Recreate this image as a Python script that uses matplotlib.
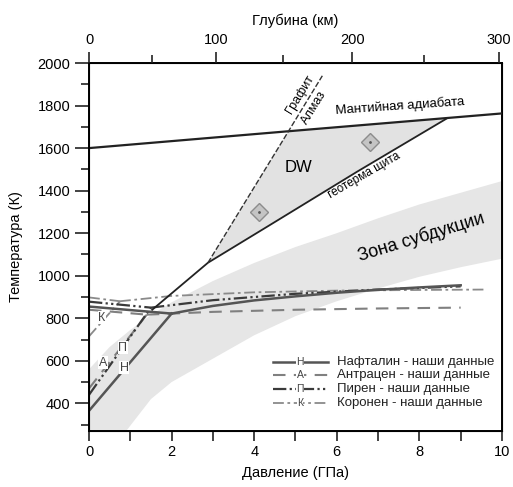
import numpy as np
import matplotlib
matplotlib.use("Agg")
import matplotlib.pyplot as plt
from matplotlib.ticker import MultipleLocator

plt.rcParams['font.family'] = ['Liberation Sans', 'DejaVu Sans']

# --- data (pressure in GPa, temperature in K) ---
adiabat_P = [0, 5, 10]
adiabat_T = [1600, 1682, 1763]

geotherm_P = [1.53, 2.88, 4.31, 6.5, 8.67]
geotherm_T = [840, 1061, 1230, 1490, 1740]

graphite_P = [2.88, 4.82, 5.65]
graphite_T = [1061, 1676, 1940]

dw_P = [2.88, 4.82, 8.67, 6.5, 4.31]
dw_T = [1061, 1676, 1740, 1490, 1230]

subd_up_P = [0, 0.5, 1.0, 1.5, 2, 3, 4, 5, 6, 7, 8, 9, 10]
subd_up_T = [560, 665, 745, 815, 875, 975, 1060, 1135, 1200, 1270, 1335, 1390, 1445]
subd_lo_P = [10, 9, 8, 7, 6, 5, 4, 3, 2, 1.5, 0.9, 0.7]
subd_lo_T = [1080, 1040, 995, 940, 880, 810, 720, 610, 500, 420, 270, 200]

diamond_P = [4.12, 6.80]
diamond_T = [1300, 1629]

# naphthalene (Н)
naph_melt_P, naph_melt_T = [0, 2.0], [365, 822]
naph_low_P, naph_low_T = [0, 2.0], [855, 822]
naph_high_P = [2.0, 3, 4, 5, 6, 7, 8, 9]
naph_high_T = [822, 858, 884, 903, 920, 934, 945, 955]
# anthracene (А)
antr_melt_P, antr_melt_T = [0, 1.4], [470, 817]
antr_low_P, antr_low_T = [0, 1.4], [840, 817]
antr_high_P = [1.4, 3, 5, 7, 9]
antr_high_T = [817, 830, 840, 846, 850]
# pyrene (П)
pyr_melt_P, pyr_melt_T = [0, 1.5], [440, 850]
pyr_low_P, pyr_low_T = [0, 1.5], [878, 850]
pyr_high_P = [1.5, 3, 5, 7, 9]
pyr_high_T = [850, 885, 915, 935, 950]
# coronene (К)
cor_melt_P, cor_melt_T = [0, 0.75], [715, 880]
cor_low_P, cor_low_T = [0, 0.75], [898, 880]
cor_high_P = [0.75, 2, 4, 6, 8, 9.6]
cor_high_T = [880, 905, 922, 930, 933, 935]

depth_km = [0, 100, 200, 300]
depth_P = [0, 3.07, 6.37, 9.93]
depth_minor_P = [1.53, 4.70, 8.12]

legend_names = ['Нафталин - наши данные', 'Антрацен - наши данные',
                'Пирен - наши данные', 'Коронен - наши данные']
legend_letters = ['Н', 'А', 'П', 'К']

# --- styles ---
st_naph = dict(color='#555555', lw=1.8, ls='-')
st_antr = dict(color='#808080', lw=1.5, ls=(0, (6, 4)))
st_pyr = dict(color='#3a3a3a', lw=1.6, ls=(0, (6, 1.5, 1, 1.5, 1, 1.5)))
st_cor = dict(color='#8a8a8a', lw=1.3, ls=(0, (6, 2, 1.5, 2)))
styles = [st_naph, st_antr, st_pyr, st_cor]

fig = plt.figure(figsize=(5.13, 4.87), dpi=100)
ax = fig.add_axes([0.1735, 0.115, 0.805, 0.7556])

# subduction zone band
poly_P = subd_up_P + subd_lo_P + [0]
poly_T = subd_up_T + subd_lo_T + [200]
ax.fill(poly_P, poly_T, color='#e6e6e6', lw=0, zorder=0)

# DW field
ax.fill(dw_P, dw_T, color='#e2e2e2', lw=0, zorder=0)

ax.plot(adiabat_P, adiabat_T, color='#222222', lw=1.6, zorder=3)
ax.plot(geotherm_P, geotherm_T, color='#222222', lw=1.3, zorder=3)
ax.plot(graphite_P, graphite_T, color='#333333', lw=1.0, ls=(0, (4, 1.5)), zorder=3)

ax.plot(diamond_P, diamond_T, ls='none', marker='D', ms=9, mfc='#c4c4c4',
        mec='#8c8c8c', mew=1.0, zorder=4)
ax.plot(diamond_P, diamond_T, ls='none', marker='.', ms=2, color='#555555', zorder=5)

for st, branches in [
        (st_cor, [(cor_melt_P, cor_melt_T), (cor_low_P, cor_low_T), (cor_high_P, cor_high_T)]),
        (st_antr, [(antr_melt_P, antr_melt_T), (antr_low_P, antr_low_T), (antr_high_P, antr_high_T)]),
        (st_pyr, [(pyr_melt_P, pyr_melt_T), (pyr_low_P, pyr_low_T), (pyr_high_P, pyr_high_T)]),
        (st_naph, [(naph_melt_P, naph_melt_T), (naph_low_P, naph_low_T), (naph_high_P, naph_high_T)])]:
    for bp, bt in branches:
        ax.plot(bp, bt, zorder=2, **st)

lbl_box = dict(facecolor='white', edgecolor='none', pad=0.3)
ax.text(0.31, 803, 'К', fontsize=9, color='#444444', ha='center', va='center', bbox=lbl_box, zorder=6)
ax.text(0.34, 592, 'А', fontsize=9, color='#444444', ha='center', va='center', bbox=lbl_box, zorder=6)
ax.text(0.82, 662, 'П', fontsize=9, color='#444444', ha='center', va='center', bbox=lbl_box, zorder=6)
ax.text(0.85, 568, 'Н', fontsize=9, color='#444444', ha='center', va='center', bbox=lbl_box, zorder=6)

ax.text(7.53, 1800, 'Мантийная адиабата', fontsize=9.5, rotation=4, ha='center', va='center')
ax.text(6.66, 1470, 'геотерма щита', fontsize=8.5, rotation=30, ha='center', va='center')
ax.text(5.08, 1507, 'DW', fontsize=12, ha='center', va='center')
ax.text(8.04, 1180, 'Зона субдукции', fontsize=13, rotation=17, ha='center', va='center')
ax.text(5.11, 1852, 'Графит', fontsize=9, rotation=58.5, ha='center', va='center')
ax.text(5.45, 1790, 'Алмаз', fontsize=9, rotation=58.5, ha='center', va='center')

# custom legend
rows_y = [0.1875, 0.152, 0.114, 0.076]
for st, letter, name, yy in zip(styles, legend_letters, legend_names, rows_y):
    ax.plot([0.445, 0.579], [yy, yy], transform=ax.transAxes, zorder=6, **st)
    ax.text(0.511, yy, letter, transform=ax.transAxes, fontsize=7.5, color='#444444',
            ha='center', va='center', bbox=lbl_box, zorder=7)
    ax.text(0.600, yy, name, transform=ax.transAxes, fontsize=9.5, color='#222222',
            ha='left', va='center', zorder=7)

ax.set_xlim(0, 10)
ax.set_ylim(270, 2000)
ax.xaxis.set_major_locator(MultipleLocator(2))
ax.xaxis.set_minor_locator(MultipleLocator(1))
ax.yaxis.set_major_locator(MultipleLocator(200))
ax.yaxis.set_minor_locator(MultipleLocator(100))
ax.tick_params(which='both', direction='out', width=1.2, labelsize=10.5, color='#222222')
ax.tick_params(axis='y', which='major', length=10)
ax.tick_params(axis='y', which='minor', length=6)
ax.tick_params(axis='x', which='both', length=7, pad=3)
ax.set_xlabel('Давление (ГПа)', fontsize=10.5, labelpad=5)
ax.set_ylabel('Температура (К)', fontsize=10.5, labelpad=10)
for s in ax.spines.values():
    s.set_linewidth(1.4)

ax2 = ax.twiny()
ax2.set_xlim(0, 10)
ax2.set_xticks(depth_P)
ax2.set_xticklabels([str(d) for d in depth_km])
ax2.set_xticks(depth_minor_P, minor=True)
ax2.tick_params(which='both', direction='out', width=1.2, labelsize=10.5, color='#222222')
ax2.tick_params(which='major', length=8)
ax2.tick_params(which='minor', length=6)
ax2.set_xlabel('Глубина (км)', fontsize=10.5, labelpad=6)

fig.savefig('out.png', dpi=100)
